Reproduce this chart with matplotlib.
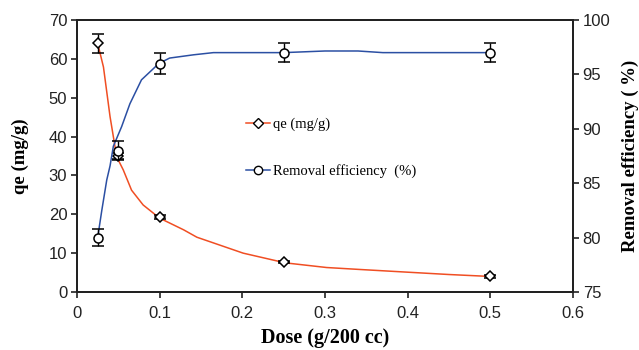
import matplotlib
matplotlib.use('Agg')
import matplotlib.pyplot as plt
from matplotlib.lines import Line2D

# measured points
dose = [0.025, 0.05, 0.1, 0.25, 0.5]
qe = [64.0, 35.0, 19.3, 7.7, 4.0]
qe_err = [2.5, 0.8, 0.5, 0.3, 0.3]
removal = [80.0, 88.0, 96.0, 97.0, 97.0]
removal_err = [0.8, 0.9, 1.0, 0.9, 0.9]

# fitted curves
qe_curve_x = [0.025, 0.032, 0.040, 0.048, 0.056, 0.066, 0.080, 0.100, 0.129, 0.145,
              0.201, 0.252, 0.302, 0.342, 0.400, 0.450, 0.500]
qe_curve_y = [64.0, 57.9, 45.1, 34.8, 31.4, 26.2, 22.4, 19.0, 16.0, 14.1,
              10.0, 7.5, 6.3, 5.8, 5.1, 4.5, 4.0]
rem_curve_x = [0.025, 0.030, 0.036, 0.040, 0.044, 0.054, 0.064, 0.078, 0.099, 0.112,
               0.141, 0.165, 0.250, 0.300, 0.340, 0.370, 0.500]
rem_curve_y = [80.0, 82.5, 85.3, 86.6, 88.4, 90.2, 92.3, 94.5, 96.0, 96.5,
               96.8, 97.0, 97.0, 97.15, 97.15, 97.0, 97.0]

red = '#f04e23'
blue = '#2b4fa3'
spine_c = '#222222'

fig = plt.figure(figsize=(6.39, 3.5), dpi=100)
ax1 = fig.add_axes([0.1205, 0.1657, 0.7762, 0.7772])
ax2 = ax1.twinx()

ax1.plot(qe_curve_x, qe_curve_y, color=red, lw=1.1, zorder=2)
ax1.errorbar(dose, qe, yerr=qe_err, fmt='D', ms=5.5, mfc='white', mec='black',
             mew=1.1, ecolor='black', elinewidth=1, capsize=4, capthick=1, zorder=3)
ax2.plot(rem_curve_x, rem_curve_y, color=blue, lw=1.1, zorder=2)
ax2.errorbar(dose, removal, yerr=removal_err, fmt='o', ms=6.5, mfc='white', mec='black',
             mew=1.1, ecolor='black', elinewidth=1, capsize=4, capthick=1, zorder=3)

ax1.set_xlim(0, 0.6)
ax1.set_ylim(0, 70)
ax2.set_ylim(75, 100)
ax1.set_xticks([0, 0.1, 0.2, 0.3, 0.4, 0.5, 0.6])
ax1.set_xticklabels(['0', '0.1', '0.2', '0.3', '0.4', '0.5', '0.6'])
ax1.set_yticks(range(0, 71, 10))
ax2.set_yticks(range(75, 101, 5))

tick_font = 'Liberation Sans'
for ax in (ax1, ax2):
    ax.tick_params(direction='out', length=4, width=1.2, colors=spine_c,
                   labelsize=12, pad=3)
    for lab in ax.get_xticklabels() + ax.get_yticklabels():
        lab.set_fontfamily(tick_font)
        lab.set_color('#222222')
    for sp in ax.spines.values():
        sp.set_linewidth(1.4)
        sp.set_color(spine_c)
ax1.tick_params(axis='x', pad=6)

lab_kw = dict(fontfamily='Liberation Serif', fontweight='bold')
ax1.set_xlabel('Dose (g/200 cc)', labelpad=5, fontsize=14.5, **lab_kw)
ax1.set_ylabel('qe (mg/g)', labelpad=14, fontsize=13.5, **lab_kw)
ax2.set_ylabel('Removal efficiency ( %)', labelpad=8, fontsize=13.5, **lab_kw)

handles = [
    Line2D([], [], color=red, lw=1.1, marker='D', ms=5, mfc='white', mec='black'),
    Line2D([], [], color=blue, lw=1.1, marker='o', ms=6, mfc='white', mec='black'),
]
ax1.legend(handles, ['qe (mg/g)', 'Removal efficiency  (%)'], frameon=False,
           loc='upper left', bbox_to_anchor=(0.315, 0.69), labelspacing=2.3,
           handlelength=1.6, handletextpad=0.2,
           prop={'family': 'Liberation Serif', 'size': 10.5})

plt.savefig('out.png', dpi=100)
